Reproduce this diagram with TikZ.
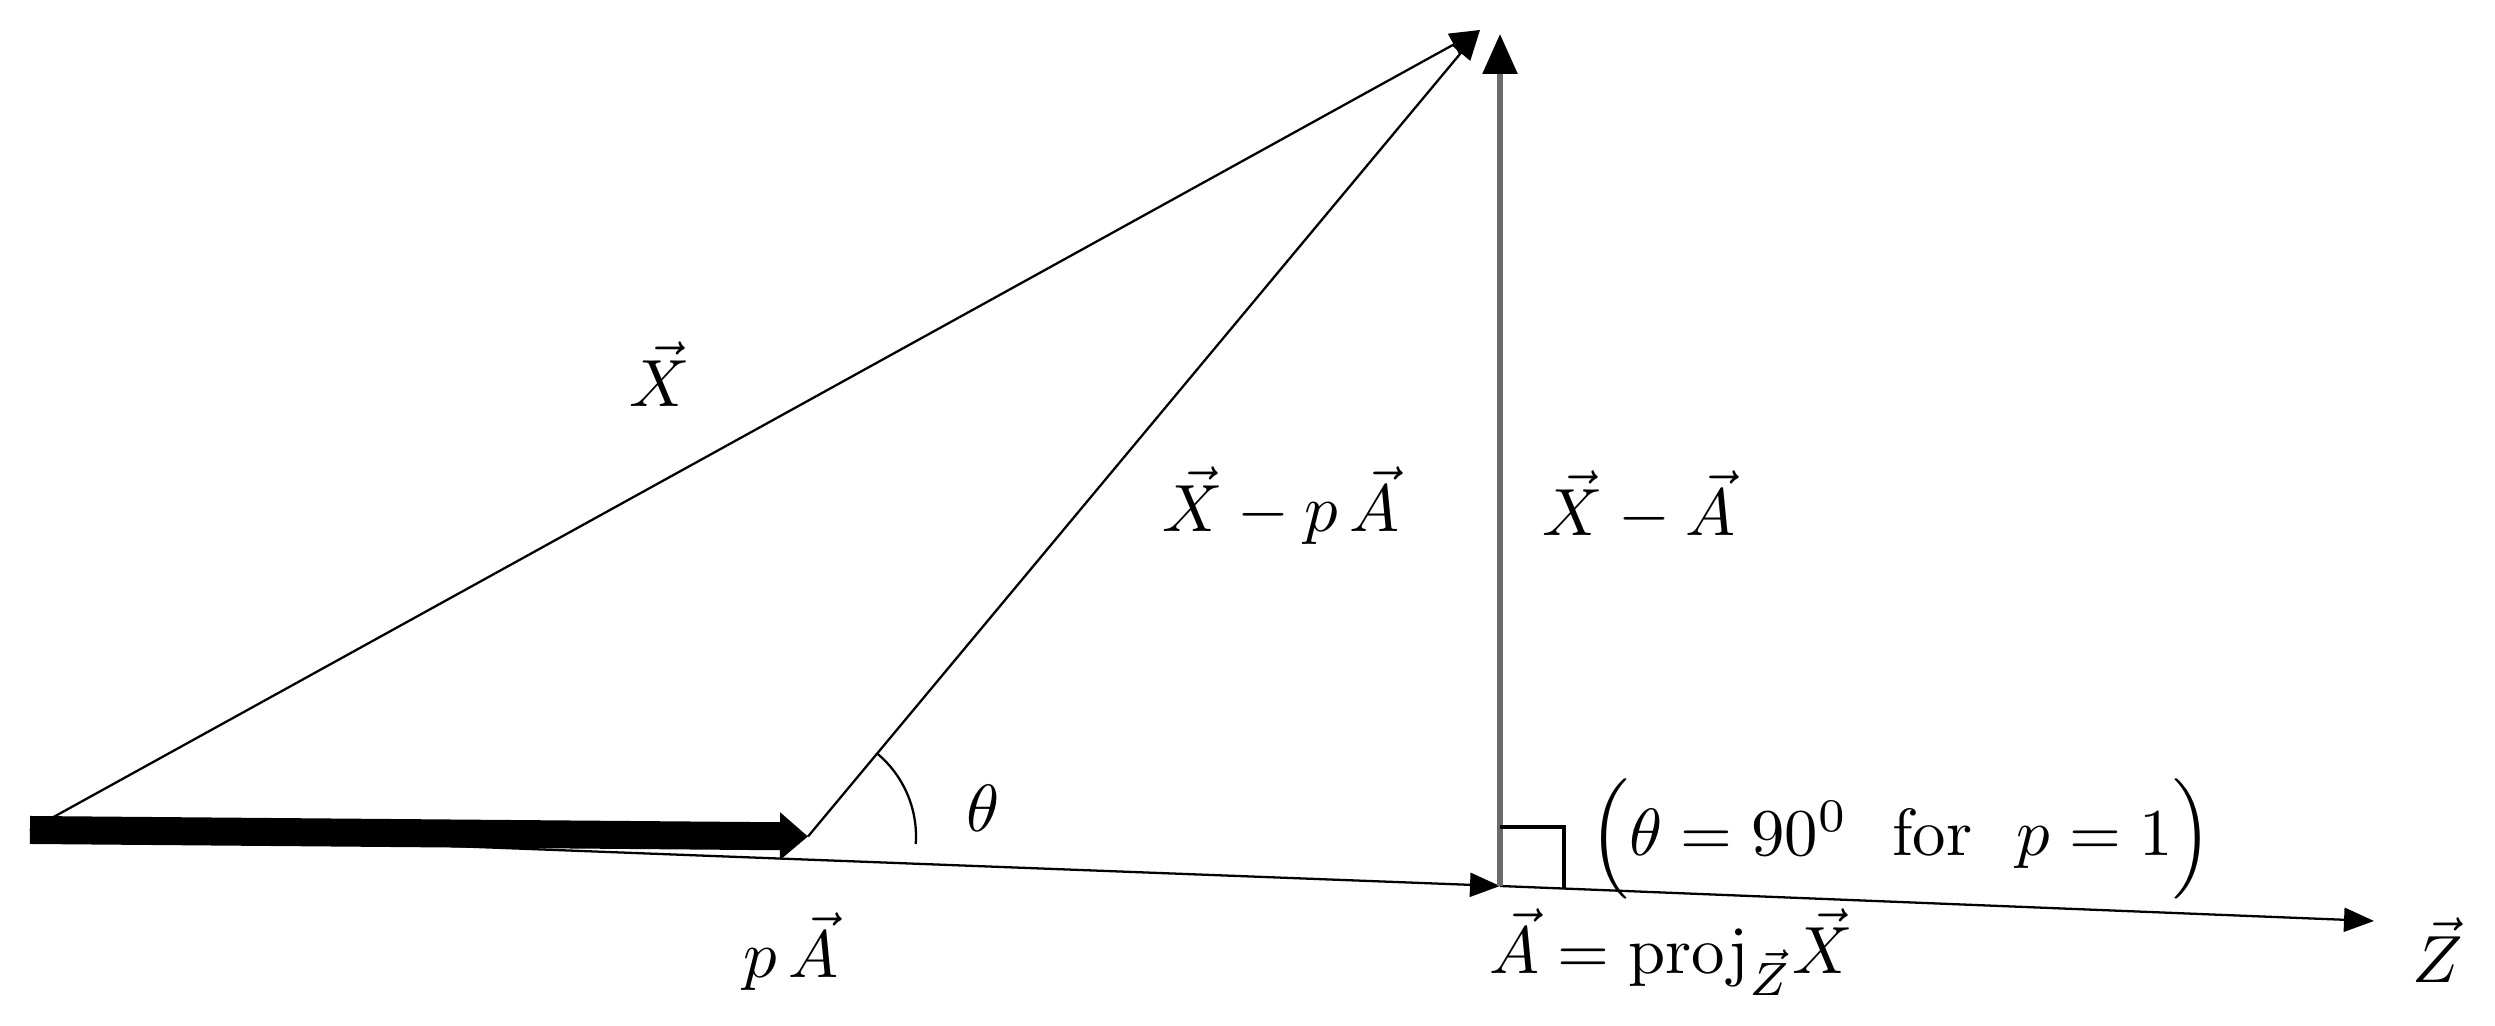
\documentclass[tikz,border=0pt]{standalone}
\usepackage{tikz}
\usetikzlibrary{arrows.meta, positioning}

\definecolor{vgray}{gray}{0.42}
\tikzset{
  vec/.style={line width=0.65pt, -{Triangle[length=0.3cm,width=0.24cm]}},
  fatvec/.style={line width=0.28cm, -{Triangle[length=0.28cm,width=0.46cm]}},
  perpvec/.style={draw=vgray, line width=1.6pt, -{Triangle[length=0.4cm,width=0.34cm,color=black]}},
  lbl/.style={inner sep=1pt, scale=1.9}
}

\begin{document}
\begin{tikzpicture}
\useasboundingbox (0,0) rectangle (24.95,10.26);
\coordinate (O) at (0.30,1.96);
\coordinate (P) at (8.08,1.895);
\coordinate (A) at (15.00,1.40);
\coordinate (Z) at (23.74,1.05);
\coordinate (X) at (14.80,9.96);
\coordinate (T) at (15.00,9.92);

\draw	(O) edge[vec] (A)
		(A) edge[vec] (Z);
\draw[fatvec] (O) -- (P);
\draw	(O) edge[vec] (X)
		(P) edge[vec] (X)
		(A) edge[perpvec] (T);

% angle and right angle
\draw[line width=0.65pt] (P) ++(50:1.08) arc[start angle=50, end angle=-4, radius=1.08];
\draw[line width=1pt] (15.00,1.99) -- (15.64,1.99) -- (15.64,1.375);

\node[lbl] (lx) at (6.60,6.52) {$\vec X$};
\node[lbl] (lxp) at (12.81,5.20) {$\vec X-p\,\vec A$};
\node[lbl] (lxa) at (16.39,5.20) {$\vec X-\vec A$};
\node[lbl] (lth) at (9.83,2.18) {$\theta$};
\node[lbl] (lcond) at (19.01,1.87) {$\Bigl(\theta=90^{0}\ \ \mathrm{for}\ \ p=1\Bigr)$};
\node[lbl] (lpa) at (7.91,0.74) {$p\,\vec A$};
\node[lbl] (lproj) at (16.71,0.74) {$\vec A=\mathrm{proj}_{\vec Z}\vec X$};
\node[lbl] (lz) at (24.38,0.76) {$\vec Z$};
\end{tikzpicture}
\end{document}
